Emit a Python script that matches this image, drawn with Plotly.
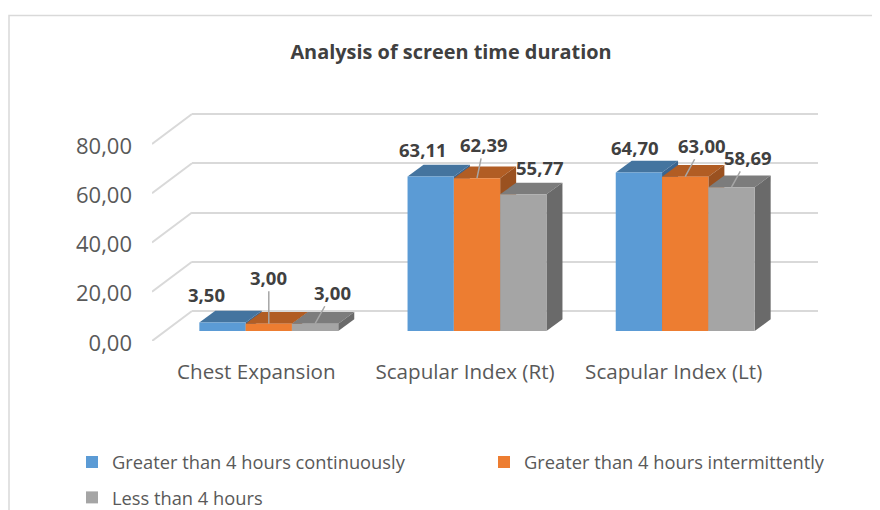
import plotly.graph_objects as go

categories = ["Chest Expansion", "Scapular Index (Rt)", "Scapular Index (Lt)"]
series_names = ["Greater than 4 hours continuously", "Greater than 4 hours intermittently", "Less than 4 hours"]
continuous = [3.50, 63.11, 64.70]
intermittent = [3.00, 62.39, 63.00]
less_than = [3.00, 55.77, 58.69]
y_ticks = [0, 20, 40, 60, 80]

series_values = [continuous, intermittent, less_than]
front_colors = ["#5B9BD5", "#ED7D31", "#A5A5A5"]
top_colors = ["#44749F", "#B15D24", "#7C7C7C"]
side_colors = ["#3A6590", "#9A5120", "#6A6A6A"]

# label offset from the top centre of each bar, in px; leader = draw a leader line
label_dx = [[-16.5, -7.6, -4], [0, 7, 17], [17.5, 17, 16.5]]
label_dy = [[-27.5, -26.4, -24.5], [-46.4, -33.8, -31.4], [-31.4, -26.4, -29.8]]
leader = [[False, False, False], [True, True, True], [True, False, True]]

# The page body has an 8 px margin, so the figure starts at (8, 8) in the window.
PAGE_W, PAGE_H, OFFSET = 880, 510, 8
W, H = PAGE_W - OFFSET, PAGE_H - OFFSET
FONT = "Open Sans"
TEXT = "#595959"
GRID = "#D9D9D9"


def fx(px):
    return (px - OFFSET) / W


def fy(px):
    return 1 - (px - OFFSET) / H


def xdom(a, b):
    return [fx(a), fx(b)]


def ydom(top, bottom):
    return [fy(bottom), fy(top)]


x_range = [-0.5, 2.5]
y_range = [0, 80]
y_range_wall = [-20, 100]
y_range_front = [0, 100]
bar_w = 0.2224
face_dx = 16 / 208.2
face_dy = 11.7 / 2.45
wall_dx = 40 / 208.67
wall_dy = 30 / 2.4625
PX_PER_UNIT = 2.4625

fig = go.Figure()

# Back wall gridlines (x/y), top+side faces (x2/y2), front faces (x3/y3), front-plane labels (x4/y4)
fig.add_trace(go.Scatter(x=[None], y=[None], mode="lines", xaxis="x", yaxis="y",
                         showlegend=False, hoverinfo="skip"))

for k, vals in enumerate(series_values):
    for i, v in enumerate(vals):
        left = i + (k - 1.5) * bar_w
        right = left + bar_w
        fig.add_trace(go.Scatter(
            x=[left, left + face_dx, right + face_dx, right, left],
            y=[v, v + face_dy, v + face_dy, v, v],
            mode="lines", fill="toself", fillcolor=top_colors[k], line=dict(width=0),
            xaxis="x2", yaxis="y2", showlegend=False, hoverinfo="skip", cliponaxis=False))
        fig.add_trace(go.Scatter(
            x=[right, right + face_dx, right + face_dx, right, right],
            y=[0, face_dy, v + face_dy, v, 0],
            mode="lines", fill="toself", fillcolor=side_colors[k], line=dict(width=0),
            xaxis="x2", yaxis="y2", showlegend=False, hoverinfo="skip", cliponaxis=False))

for k, vals in enumerate(series_values):
    fig.add_trace(go.Bar(
        x=[0, 1, 2], y=vals, name=series_names[k], marker=dict(color=front_colors[k], line=dict(width=0)),
        xaxis="x3", yaxis="y3", legend=["legend", "legend2", "legend3"][k],
        hovertemplate="%{y:.2f}<extra>" + series_names[k] + "</extra>"))

for t in y_ticks:
    fig.add_trace(go.Scatter(
        x=[x_range[0], x_range[0] + wall_dx], y=[t, t + wall_dy], mode="lines",
        line=dict(color=GRID, width=2), xaxis="x4", yaxis="y4",
        showlegend=False, hoverinfo="skip", cliponaxis=False))

annotations = []
for k, vals in enumerate(series_values):
    for i, v in enumerate(vals):
        x = i + (k - 1) * bar_w
        text = f"<b>{v:.2f}</b>".replace(".", ",")
        common = dict(x=x, y=v, xref="x3", yref="y3", text=text, xanchor="center", yanchor="middle",
                      font=dict(family=FONT, size=18.5, color="#404040"))
        if leader[k][i]:
            annotations.append(dict(showarrow=True, arrowhead=0, arrowwidth=1.5, arrowcolor="#A6A6A6",
                                    ax=label_dx[k][i], ay=label_dy[k][i], **common))
        else:
            annotations.append(dict(showarrow=False, xshift=label_dx[k][i], yshift=-label_dy[k][i], **common))

legend_common = dict(orientation="v", xanchor="left", yanchor="middle", bgcolor="rgba(0,0,0,0)",
                     font=dict(family=FONT, size=18.3, color=TEXT), borderwidth=0)

hidden = dict(visible=False, range=x_range)
fig.update_layout(
    width=W, height=H, autosize=False,
    margin=dict(l=0, r=0, t=0, b=0, autoexpand=False),
    paper_bgcolor="white", plot_bgcolor="rgba(0,0,0,0)",
    separators=",.",
    barmode="group", bargap=1 - 3 * bar_w, bargroupgap=0,
    showlegend=True,
    font=dict(family=FONT, color=TEXT),
    title=dict(text="<b>Analysis of screen time duration</b>", x=fx(451), xanchor="center",
               y=fy(52), yanchor="middle", font=dict(family=FONT, size=19.9, color="#404040")),
    xaxis=dict(domain=xdom(192, 818), range=x_range, visible=True, showticklabels=False, ticks="",
               showgrid=False, zeroline=False, showline=False, anchor="y"),
    yaxis=dict(domain=ydom(311 - PX_PER_UNIT * 100, 311 + PX_PER_UNIT * 20), range=y_range_wall, tickvals=y_ticks,
               showticklabels=False, ticks="", showgrid=True, gridcolor=GRID, gridwidth=2, zeroline=False,
               showline=False, anchor="x"),
    xaxis2=dict(domain=xdom(164.7, 789.3), anchor="y2", **hidden),
    yaxis2=dict(domain=ydom(135, 331), range=y_range, visible=False, anchor="x2"),
    xaxis3=dict(domain=xdom(164.7, 789.3), anchor="y3", **hidden),
    yaxis3=dict(domain=ydom(135, 331), range=y_range, visible=False, anchor="x3"),
    xaxis4=dict(domain=xdom(152, 778), range=x_range, anchor="y4", tickvals=[0, 1, 2], ticktext=categories,
                showgrid=False, zeroline=False, showline=False, ticks="", ticklabelstandoff=16,
                tickfont=dict(family=FONT, size=20.6, color=TEXT)),
    yaxis4=dict(domain=ydom(341 - PX_PER_UNIT * 100, 341), range=y_range_front, anchor="x4", tickvals=y_ticks,
                tickformat=".2f", showgrid=False, zeroline=False, showline=False, ticks="", ticklabelstandoff=19,
                ticklabelshift=2, tickfont=dict(family=FONT, size=22, color=TEXT)),
    legend=dict(x=fx(72), y=fy(462), **legend_common),
    legend2=dict(x=fx(484), y=fy(462), **legend_common),
    legend3=dict(x=fx(72), y=fy(497.5), **legend_common),
    annotations=annotations,
    shapes=[dict(type="path", xref="paper", yref="paper",
                 path=f"M {fx(9)} -0.1 L {fx(9)} {fy(15.5)} L 1.1 {fy(15.5)}",
                 line=dict(color=GRID, width=1.5), layer="below")],
)

fig.write_html("out.html")
